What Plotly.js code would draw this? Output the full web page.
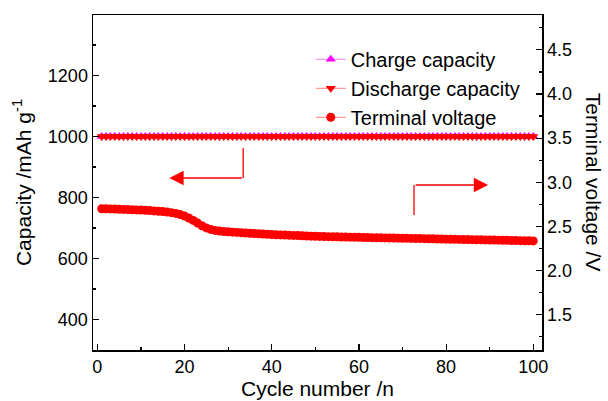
<!DOCTYPE html>
<html><head><meta charset="utf-8">
<script src="https://cdn.plot.ly/plotly-3.0.1.min.js"></script>
<style>html,body{margin:0;padding:0;background:#fff}#c{width:608px;height:401px}</style>
</head><body><div id="c"></div>
<script>
const cycles = Array.from({length:100},(_, i)=>i+1);
const chargeCapacity = Array(100).fill(1000);
const dischargeCapacity = Array(100).fill(1000);
const terminalVoltage = [
2.700,2.699,2.698,2.697,2.695,2.693,2.691,2.689,2.687,2.685,
2.682,2.679,2.676,2.672,2.668,2.663,2.656,2.647,2.634,2.617,
2.595,2.568,2.538,2.508,2.483,2.466,2.455,2.448,2.443,2.439,
2.435,2.432,2.429,2.426,2.423,2.420,2.417,2.414,2.411,2.409,
2.406,2.404,2.402,2.400,2.398,2.396,2.394,2.392,2.390,2.389,
2.387,2.386,2.384,2.383,2.382,2.380,2.379,2.378,2.377,2.376,
2.375,2.374,2.373,2.372,2.371,2.370,2.369,2.368,2.367,2.366,
2.365,2.364,2.363,2.362,2.361,2.360,2.359,2.358,2.357,2.356,
2.355,2.354,2.353,2.352,2.351,2.350,2.349,2.348,2.347,2.346,
2.345,2.344,2.343,2.342,2.341,2.340,2.339,2.338,2.337,2.336];
const seriesNames = ['Charge capacity','Discharge capacity','Terminal voltage'];

const F = 'Liberation Sans, Arial, sans-serif';
const traces = [
 {x:cycles, y:chargeCapacity, name:seriesNames[0], mode:'lines+markers', yaxis:'y',
  line:{color:'#f080f0', width:1}, marker:{symbol:'triangle-up', size:9, color:'#ff00ff'}},
 {x:cycles, y:dischargeCapacity, name:seriesNames[1], mode:'lines+markers', yaxis:'y',
  line:{color:'#ff8080', width:1}, marker:{symbol:'triangle-down', size:9, color:'#ff0000'}},
 {x:cycles, y:terminalVoltage, name:seriesNames[2], mode:'lines+markers', yaxis:'y2',
  line:{color:'#ff8080', width:1}, marker:{symbol:'circle', size:9, color:'#ff0000'}}
];
const ax = {showgrid:false, zeroline:false, showline:true, linecolor:'#000', linewidth:1.5,
  ticks:'inside', ticklen:6, tickwidth:1.2, tickcolor:'#000',
  tickfont:{family:F, size:18, color:'#000'}};
const layout = {
  width:608, height:401, paper_bgcolor:'#fff', plot_bgcolor:'#fff',
  margin:{l:93, r:66, t:15, b:51},
  font:{family:F, color:'#000'},
  showlegend:true,
  legend:{x:0.485, y:0.926, xanchor:'left', yanchor:'top', bgcolor:'rgba(0,0,0,0)',
    font:{family:F, size:20, color:'#000'}, tracegroupgap:0},
  xaxis:Object.assign({}, ax, {range:[-1,102], dtick:20, tick0:0, mirror:true,
    minor:{ticks:'inside', ticklen:3, dtick:10, tickcolor:'#000'},
    title:{text:'Cycle number /n', font:{family:F, size:21}, standoff:2}}),
  yaxis:Object.assign({}, ax, {range:[300,1398], dtick:200, tick0:0,
    minor:{ticks:'inside', ticklen:3, dtick:100, tickcolor:'#000'},
    title:{text:'Capacity /mAh g<sup>-1</sup>', font:{family:F, size:21}, standoff:10}}),
  yaxis2:Object.assign({}, ax, {overlaying:'y', side:'right', range:[1.1,4.895], dtick:0.5, tick0:0,
    tickformat:'.1f', minor:{ticks:'inside', ticklen:3, dtick:0.25, tickcolor:'#000'}}),
  annotations:[
    {xref:'paper', yref:'paper', x:1.115, y:0.5, text:'Terminal voltage /V', textangle:90,
     showarrow:false, font:{family:F, size:21, color:'#000'}, xanchor:'center', yanchor:'middle'},
    {xref:'paper', yref:'paper', x:0.170, y:0.5134, ax:74, ay:0, text:'', showarrow:true,
     arrowhead:2, arrowsize:2.2, arrowwidth:1.3, arrowcolor:'#ff0000', standoff:0},
    {xref:'paper', yref:'paper', x:0.880, y:0.4925, ax:-74, ay:0, text:'', showarrow:true,
     arrowhead:2, arrowsize:2.2, arrowwidth:1.3, arrowcolor:'#ff0000', standoff:0}
  ],
  shapes:[
    {type:'line', xref:'paper', yref:'paper', x0:0.3345, x1:0.3345, y0:0.603, y1:0.5134,
     line:{color:'#ff0000', width:1.3}},
    {type:'line', xref:'paper', yref:'paper', x0:0.715, x1:0.715, y0:0.4925, y1:0.403,
     line:{color:'#ff0000', width:1.3}}
  ]
};
Plotly.newPlot('c', traces, layout, {displayModeBar:false, staticPlot:true});
</script></body></html>
